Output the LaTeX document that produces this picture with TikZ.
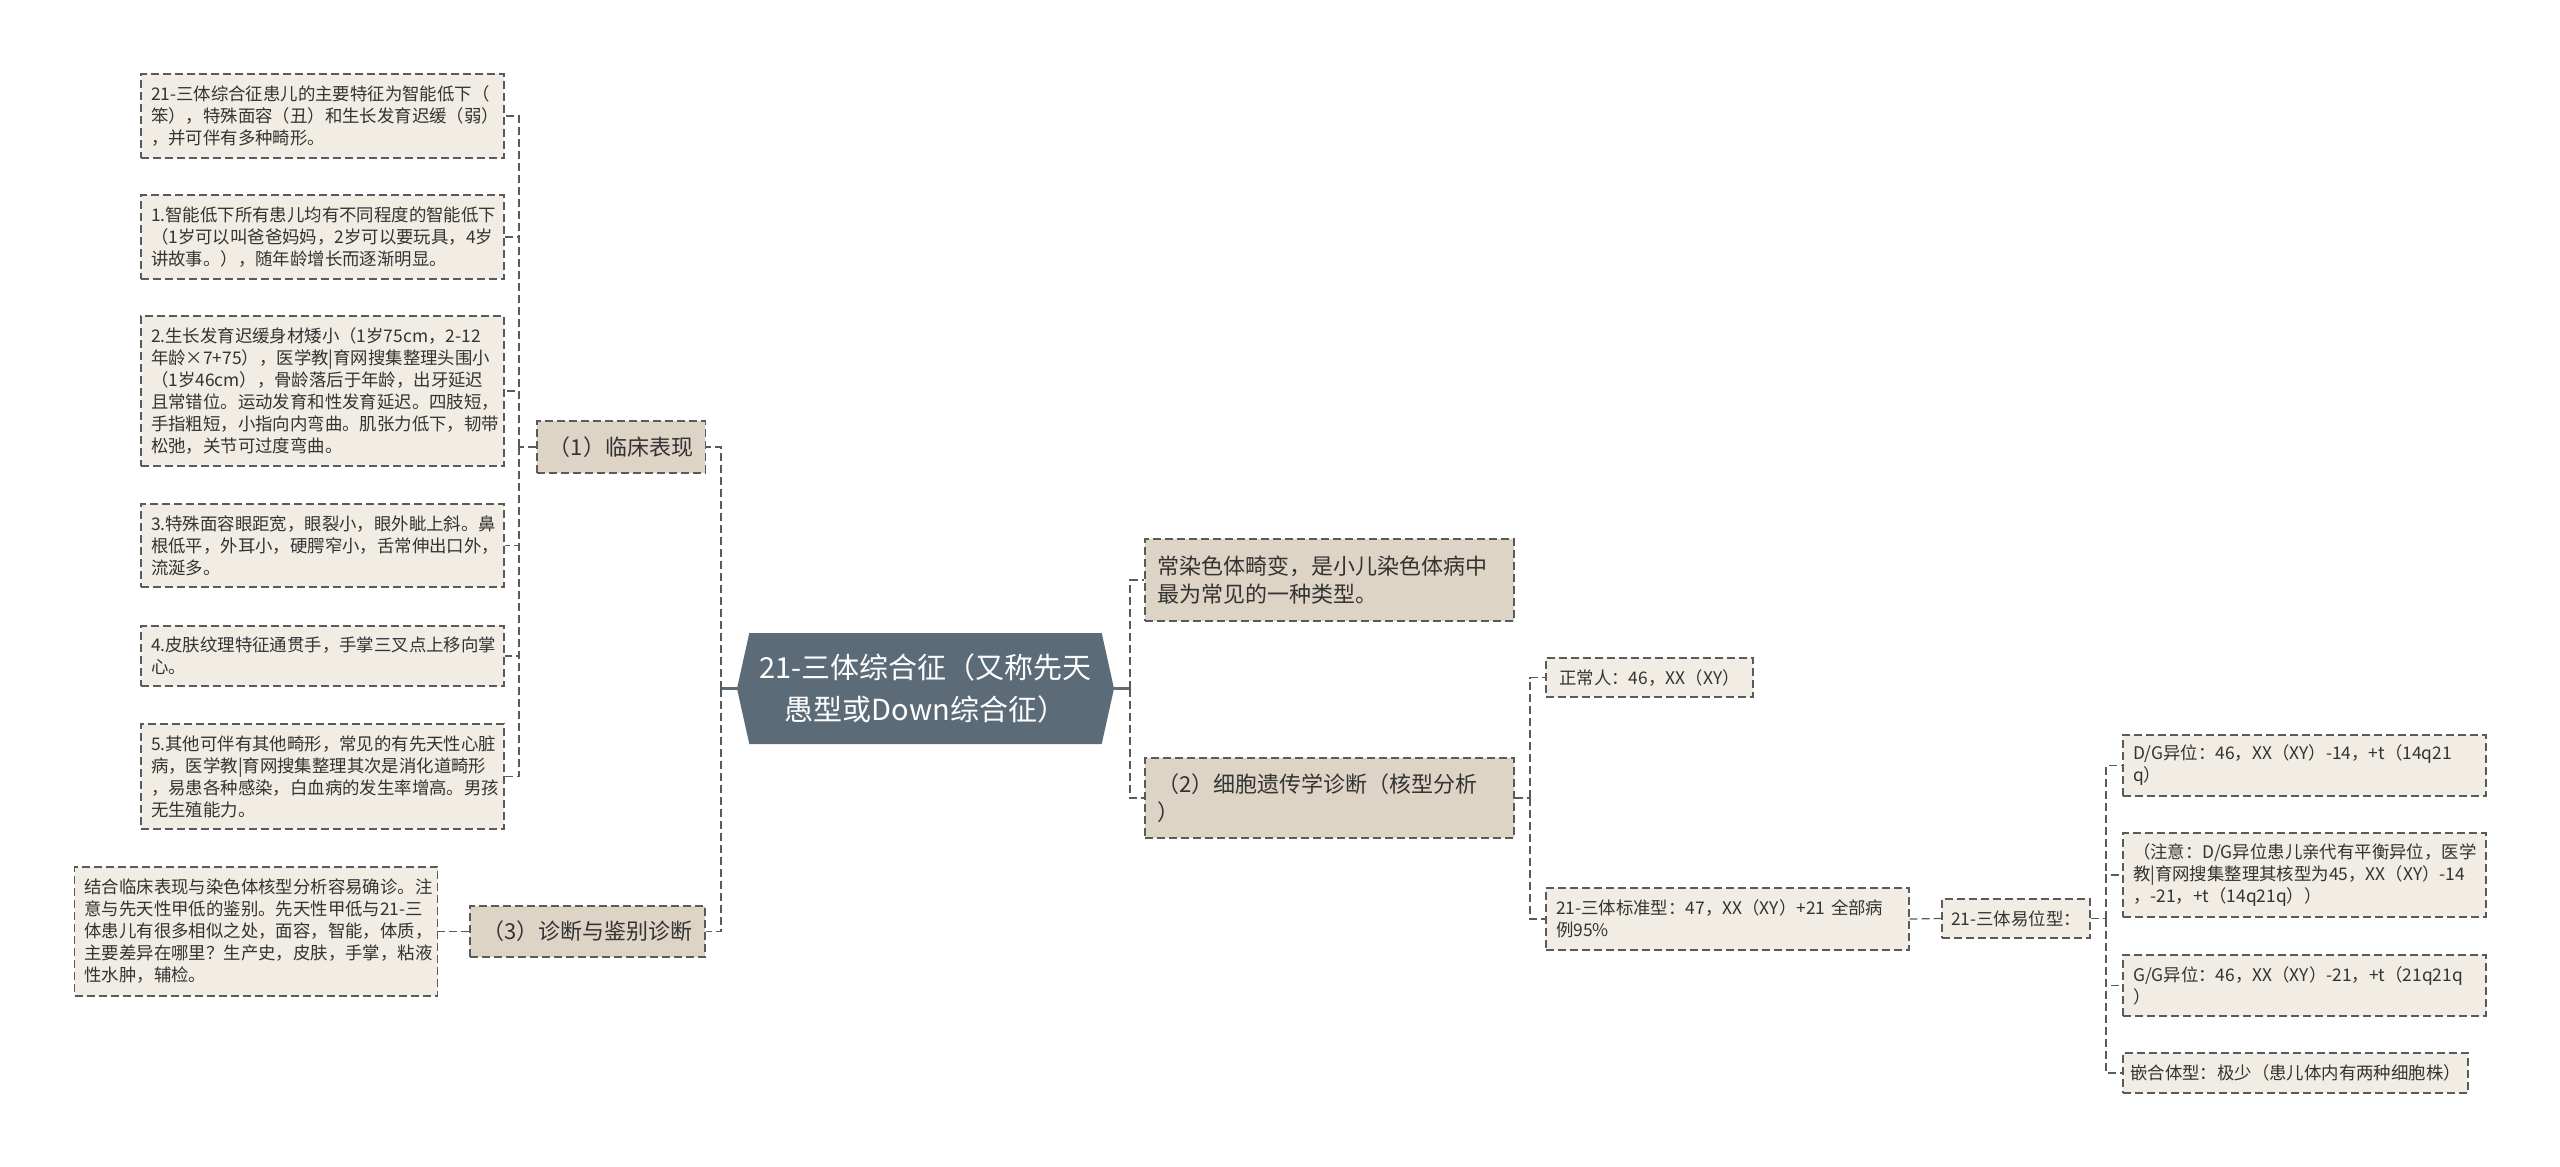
\documentclass[tikz,border=0pt]{standalone}
\usepackage{fontspec}
\newfontfamily\cjk{Noto Sans CJK SC}
\usetikzlibrary{shapes.symbols}
\definecolor{leaffill}{HTML}{F1EDE5}
\definecolor{branchfill}{HTML}{DED4C6}
\definecolor{rootfill}{HTML}{5B6B78}
\definecolor{edgegray}{HTML}{5A5A5A}
\definecolor{textgray}{HTML}{333333}

\begin{document}
\begin{tikzpicture}
  [x=0.5pt,y=-0.5pt,
  leaf/.style={draw=edgegray,dash pattern=on 4pt off 2pt,line width=0.6pt,fill=leaffill,text=textgray,font=\cjk\fontsize{8.7}{11}\selectfont,inner xsep=5pt,inner ysep=0pt,align=left,text width=171.5pt,minimum width=181.5pt},
  tag/.style={draw=edgegray,dash pattern=on 4pt off 2pt,line width=0.6pt,fill=leaffill,text=textgray,font=\cjk\fontsize{8.7}{11}\selectfont,inner xsep=2pt,inner ysep=0pt,minimum height=19.5pt},
  branch/.style={draw=edgegray,dash pattern=on 4pt off 2pt,line width=0.6pt,fill=branchfill,text=textgray,font=\cjk\fontsize{11}{14}\selectfont,inner xsep=6pt,inner ysep=0pt},
  root/.style={signal,signal to=east and west,signal pointer angle=155,fill=rootfill,text=white,font=\cjk\fontsize{14.5}{21}\selectfont,align=center,minimum width=188.5pt,minimum height=55.5pt,inner sep=0pt},
  conn/.style={draw=edgegray,dash pattern=on 4pt off 2pt,line width=0.6pt},
  stub/.style={draw=rootfill,line width=1.2pt}]
  \useasboundingbox[fill=white] (0,0) rectangle (2560,1167);

  % centre
  \node[root] (0) at (925.5,688.5) {21-三体综合征（又称先天\\愚型或Down综合征）};

  % left side
  \node[branch,minimum width=84pt,minimum height=26pt] (1) at (621,447) {（1）临床表现};
  \node[branch,minimum width=117.5pt,minimum height=25.5pt] (3) at (587.5,931.5) {（3）诊断与鉴别诊断};

  \node[leaf,minimum height=42pt] (11) at (322.5,116) {21-三体综合征患儿的主要特征为智能低下（\\笨），特殊面容（丑）和生长发育迟缓（弱）\\，并可伴有多种畸形。};
  \node[leaf,minimum height=42pt] (12) at (322.5,237) {1.智能低下所有患儿均有不同程度的智能低下\\（1岁可以叫爸爸妈妈，2岁可以要玩具，4岁\\讲故事。），随年龄增长而逐渐明显。};
  \node[leaf,minimum height=75pt] (13) at (322.5,391) {2.生长发育迟缓身材矮小（1岁75cm，2-12\\年龄×7+75），医学教|育网搜集整理头围小\\（1岁46cm），骨龄落后于年龄，出牙延迟\\且常错位。运动发育和性发育延迟。四肢短，\\手指粗短，小指向内弯曲。肌张力低下，韧带\\松弛，关节可过度弯曲。};
  \node[leaf,minimum height=41.5pt] (14) at (322.5,545.5) {3.特殊面容眼距宽，眼裂小，眼外眦上斜。鼻\\根低平，外耳小，硬腭窄小，舌常伸出口外，\\流涎多。};
  \node[leaf,minimum height=30pt] (15) at (322.5,656) {4.皮肤纹理特征通贯手，手掌三叉点上移向掌\\心。};
  \node[leaf,minimum height=52.5pt] (16) at (322.5,776.5) {5.其他可伴有其他畸形，常见的有先天性心脏\\病，医学教|育网搜集整理其次是消化道畸形\\，易患各种感染，白血病的发生率增高。男孩\\无生殖能力。};

  \node[leaf,minimum height=64.5pt] (31) at (256,931.5) {结合临床表现与染色体核型分析容易确诊。注\\意与先天性甲低的鉴别。先天性甲低与21-三\\体患儿有很多相似之处，面容，智能，体质，\\主要差异在哪里？生产史，皮肤，手掌，粘液\\性水肿，辅检。};

  % right side
  \node[branch,align=left,text width=172.5pt,minimum height=41pt] (5) at (1329.5,580) {常染色体畸变，是小儿染色体病中\\最为常见的一种类型。};
  \node[branch,align=left,text width=172.5pt,minimum height=40pt] (2) at (1329.5,798) {（2）细胞遗传学诊断（核型分析\\）};

  \node[tag,minimum width=103.5pt] (21) at (1649.5,677.5) {正常人：46，XX（XY）};
  \node[leaf,minimum height=31pt] (22) at (1727.5,919) {21-三体标准型：47，XX（XY）+21 全部病\\例95\%};
  \node[tag,minimum width=74pt] (221) at (2016,918.5) {21-三体易位型：};

  \node[leaf,minimum height=30.5pt] (2211) at (2304.5,765.5) {D/G异位：46，XX（XY）-14，+t（14q21\\q）};
  \node[leaf,minimum height=42pt] (2212) at (2304.5,875) {（注意：D/G异位患儿亲代有平衡异位，医学\\教|育网搜集整理其核型为45，XX（XY）-14\\，-21，+t（14q21q））};
  \node[leaf,minimum height=30.5pt] (2213) at (2304.5,985.5) {G/G异位：46，XX（XY）-21，+t（21q21q\\）};
  \node[tag,minimum width=172.5pt,minimum height=20pt] (2214) at (2295.5,1073) {嵌合体型：极少（患儿体内有两种细胞株）};

  % connectors
  \coordinate (j0l) at (721,688.5);
  \coordinate (j0r) at (1130,688.5);
  \coordinate (j1) at (519,447);
  \coordinate (j2) at (1530,798);
  \coordinate (j3) at (2106,918.5);

  \draw[stub] (0.west) -- (j0l);
  \draw[stub] (0.east) -- (j0r);
  \draw[conn] (j0l) |- (1.east);
  \draw[conn] (j0l) |- (3.east);
  \draw[conn] (j0r) |- (5.west);
  \draw[conn] (j0r) |- (2.west);

  \draw[conn] (1.west) -- (j1);
  \foreach \n in {11,...,16}
    \draw[conn] (j1) |- (\n.east);
  \draw[conn] (3.west) -- (31.east);

  \draw[conn] (2.east) -- (j2);
  \foreach \n in {21,22}
    \draw[conn] (j2) |- (\n.west);
  \draw[conn] (22.east) -- (221.west);
  \draw[conn] (221.east) -- (j3);
  \foreach \n in {2211,...,2214}
    \draw[conn] (j3) |- (\n.west);
\end{tikzpicture}
\end{document}
